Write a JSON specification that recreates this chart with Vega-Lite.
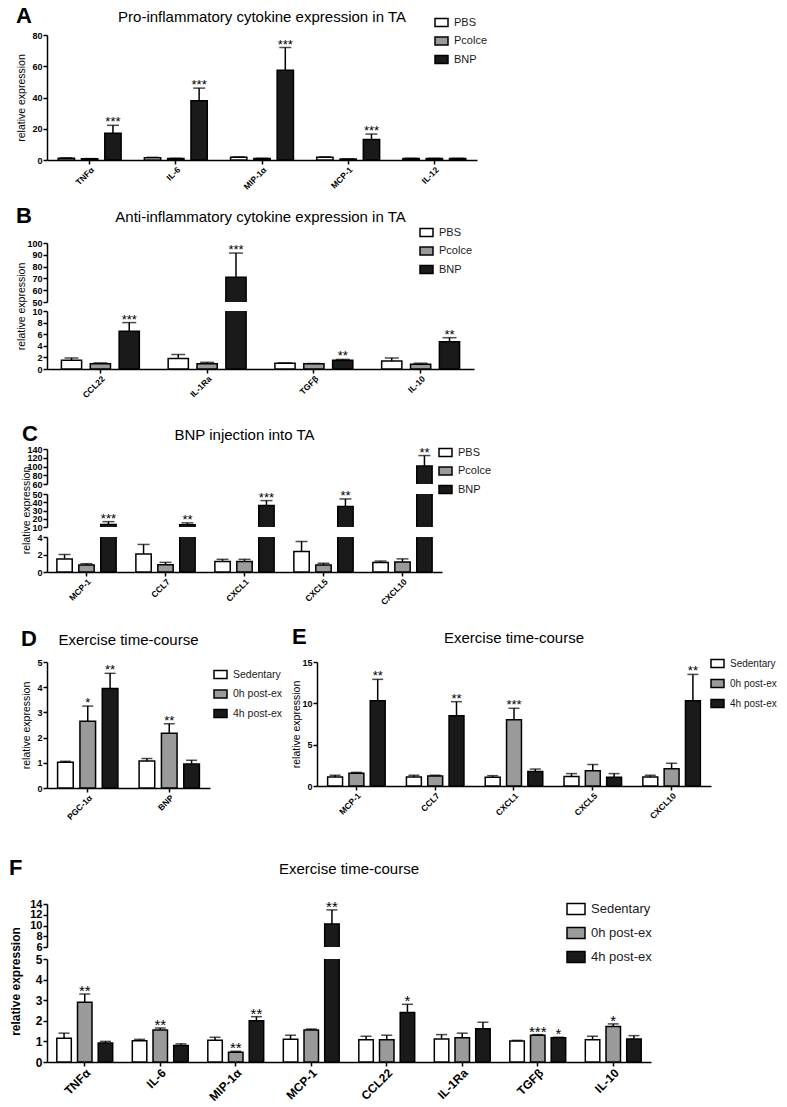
{
"$schema":"https://vega.github.io/schema/vega-lite/v6.json",
"padding":{"left":9,"top":5,"right":5,"bottom":5},
"config":{
 "font":"Liberation Sans",
 "view":{"stroke":null},
 "title":{"font":"Liberation Sans","fontWeight":"normal","fontSize":15,"color":"black"},
 "axis":{"domainColor":"black","domainWidth":1.5,"tickColor":"black","tickWidth":1.5,"tickSize":4,"labelColor":"black","titleColor":"black","grid":false,"labelFont":"Liberation Sans","titleFont":"Liberation Sans","labelFontWeight":"bold","labelFontSize":9,"titleFontWeight":"normal","titleFontSize":10.5,"labelPadding":1,"titlePadding":0,"labelOverlap":false},
 "axisX":{"labelAngle":-45,"labelFontSize":8.5},
 "legend":{"symbolType":"M-1,-0.6H1V0.6H-1Z","symbolSize":169,"symbolStrokeColor":"black","symbolStrokeWidth":1.5,"labelFont":"Liberation Sans","labelFontSize":11,"labelColor":"#1a1a1a","rowPadding":3.5,"padding":0,"labelOffset":5},
 "text":{"font":"Liberation Sans","color":"black"}
},
"datasets":{
 "dA":[
  {"gene":"TNFα","grp":"PBS","v":1.2,"up":1.4,"sig":""},
  {"gene":"TNFα","grp":"Pcolce","v":0.8,"up":0.9,"sig":""},
  {"gene":"TNFα","grp":"BNP","v":17.2,"up":22.2,"sig":"***"},
  {"gene":"IL-6","grp":"PBS","v":1.5,"up":1.7,"sig":""},
  {"gene":"IL-6","grp":"Pcolce","v":1.0,"up":1.1,"sig":""},
  {"gene":"IL-6","grp":"BNP","v":38,"up":46,"sig":"***"},
  {"gene":"MIP-1α","grp":"PBS","v":1.8,"up":2.0,"sig":""},
  {"gene":"MIP-1α","grp":"Pcolce","v":1.0,"up":1.1,"sig":""},
  {"gene":"MIP-1α","grp":"BNP","v":57.5,"up":72,"sig":"***"},
  {"gene":"MCP-1","grp":"PBS","v":1.8,"up":2.0,"sig":""},
  {"gene":"MCP-1","grp":"Pcolce","v":0.6,"up":0.7,"sig":""},
  {"gene":"MCP-1","grp":"BNP","v":13.2,"up":16.6,"sig":"***"},
  {"gene":"IL-12","grp":"PBS","v":1.0,"up":1.1,"sig":""},
  {"gene":"IL-12","grp":"Pcolce","v":1.0,"up":1.1,"sig":""},
  {"gene":"IL-12","grp":"BNP","v":1.0,"up":1.1,"sig":""}
 ],
 "dB":[
  {"gene":"CCL22","grp":"PBS","v":1.5,"up":1.9,"sig":""},
  {"gene":"CCL22","grp":"Pcolce","v":0.9,"up":1.05,"sig":""},
  {"gene":"CCL22","grp":"BNP","v":6.5,"up":8.0,"sig":"***"},
  {"gene":"IL-1Ra","grp":"PBS","v":1.8,"up":2.5,"sig":""},
  {"gene":"IL-1Ra","grp":"Pcolce","v":0.9,"up":1.15,"sig":""},
  {"gene":"IL-1Ra","grp":"BNP","v":71,"up":91.5,"sig":"***"},
  {"gene":"TGFβ","grp":"PBS","v":1.0,"up":1.05,"sig":""},
  {"gene":"TGFβ","grp":"Pcolce","v":0.9,"up":0.95,"sig":""},
  {"gene":"TGFβ","grp":"BNP","v":1.5,"up":1.65,"sig":"**"},
  {"gene":"IL-10","grp":"PBS","v":1.4,"up":1.9,"sig":""},
  {"gene":"IL-10","grp":"Pcolce","v":0.8,"up":1.0,"sig":""},
  {"gene":"IL-10","grp":"BNP","v":4.7,"up":5.4,"sig":"**"}
 ],
 "dC":[
  {"gene":"MCP-1","grp":"PBS","v":1.5,"up":2.0,"sig":""},
  {"gene":"MCP-1","grp":"Pcolce","v":0.8,"up":0.95,"sig":""},
  {"gene":"MCP-1","grp":"BNP","v":13,"up":16.5,"sig":"***"},
  {"gene":"CCL7","grp":"PBS","v":2.05,"up":3.15,"sig":""},
  {"gene":"CCL7","grp":"Pcolce","v":0.83,"up":1.1,"sig":""},
  {"gene":"CCL7","grp":"BNP","v":12.6,"up":15,"sig":"**"},
  {"gene":"CXCL1","grp":"PBS","v":1.2,"up":1.45,"sig":""},
  {"gene":"CXCL1","grp":"Pcolce","v":1.2,"up":1.45,"sig":""},
  {"gene":"CXCL1","grp":"BNP","v":36,"up":42,"sig":"***"},
  {"gene":"CXCL5","grp":"PBS","v":2.35,"up":3.5,"sig":""},
  {"gene":"CXCL5","grp":"Pcolce","v":0.8,"up":1.0,"sig":""},
  {"gene":"CXCL5","grp":"BNP","v":35,"up":44,"sig":"**"},
  {"gene":"CXCL10","grp":"PBS","v":1.1,"up":1.25,"sig":""},
  {"gene":"CXCL10","grp":"Pcolce","v":1.15,"up":1.5,"sig":""},
  {"gene":"CXCL10","grp":"BNP","v":101,"up":125,"sig":"**"}
 ],
 "dD":[
  {"gene":"PGC-1α","grp":"Sedentary","v":1.02,"up":1.06,"sig":""},
  {"gene":"PGC-1α","grp":"0h post-ex","v":2.65,"up":3.25,"sig":"*"},
  {"gene":"PGC-1α","grp":"4h post-ex","v":3.95,"up":4.55,"sig":"**"},
  {"gene":"BNP","grp":"Sedentary","v":1.07,"up":1.17,"sig":""},
  {"gene":"BNP","grp":"0h post-ex","v":2.17,"up":2.55,"sig":"**"},
  {"gene":"BNP","grp":"4h post-ex","v":0.95,"up":1.1,"sig":""}
 ],
 "dE":[
  {"gene":"MCP-1","grp":"Sedentary","v":1.1,"up":1.3,"sig":""},
  {"gene":"MCP-1","grp":"0h post-ex","v":1.55,"up":1.65,"sig":""},
  {"gene":"MCP-1","grp":"4h post-ex","v":10.3,"up":12.9,"sig":"**"},
  {"gene":"CCL7","grp":"Sedentary","v":1.1,"up":1.3,"sig":""},
  {"gene":"CCL7","grp":"0h post-ex","v":1.2,"up":1.3,"sig":""},
  {"gene":"CCL7","grp":"4h post-ex","v":8.5,"up":10.2,"sig":"**"},
  {"gene":"CXCL1","grp":"Sedentary","v":1.05,"up":1.25,"sig":""},
  {"gene":"CXCL1","grp":"0h post-ex","v":8.0,"up":9.4,"sig":"***"},
  {"gene":"CXCL1","grp":"4h post-ex","v":1.75,"up":2.05,"sig":""},
  {"gene":"CXCL5","grp":"Sedentary","v":1.15,"up":1.5,"sig":""},
  {"gene":"CXCL5","grp":"0h post-ex","v":1.85,"up":2.6,"sig":""},
  {"gene":"CXCL5","grp":"4h post-ex","v":1.05,"up":1.5,"sig":""},
  {"gene":"CXCL10","grp":"Sedentary","v":1.1,"up":1.3,"sig":""},
  {"gene":"CXCL10","grp":"0h post-ex","v":2.1,"up":2.75,"sig":""},
  {"gene":"CXCL10","grp":"4h post-ex","v":10.3,"up":13.5,"sig":"**"}
 ],
 "dF":[
  {"gene":"TNFα","grp":"Sedentary","v":1.15,"up":1.4,"sig":""},
  {"gene":"TNFα","grp":"0h post-ex","v":2.9,"up":3.3,"sig":"**"},
  {"gene":"TNFα","grp":"4h post-ex","v":0.92,"up":1.0,"sig":""},
  {"gene":"IL-6","grp":"Sedentary","v":1.03,"up":1.1,"sig":""},
  {"gene":"IL-6","grp":"0h post-ex","v":1.55,"up":1.65,"sig":"**"},
  {"gene":"IL-6","grp":"4h post-ex","v":0.8,"up":0.88,"sig":""},
  {"gene":"MIP-1α","grp":"Sedentary","v":1.05,"up":1.2,"sig":""},
  {"gene":"MIP-1α","grp":"0h post-ex","v":0.47,"up":0.52,"sig":"**"},
  {"gene":"MIP-1α","grp":"4h post-ex","v":2.0,"up":2.2,"sig":"**"},
  {"gene":"MCP-1","grp":"Sedentary","v":1.1,"up":1.3,"sig":""},
  {"gene":"MCP-1","grp":"0h post-ex","v":1.55,"up":1.6,"sig":""},
  {"gene":"MCP-1","grp":"4h post-ex","v":10.3,"up":12.9,"sig":"**"},
  {"gene":"CCL22","grp":"Sedentary","v":1.08,"up":1.25,"sig":""},
  {"gene":"CCL22","grp":"0h post-ex","v":1.08,"up":1.3,"sig":""},
  {"gene":"CCL22","grp":"4h post-ex","v":2.4,"up":2.8,"sig":"*"},
  {"gene":"IL-1Ra","grp":"Sedentary","v":1.12,"up":1.33,"sig":""},
  {"gene":"IL-1Ra","grp":"0h post-ex","v":1.18,"up":1.4,"sig":""},
  {"gene":"IL-1Ra","grp":"4h post-ex","v":1.62,"up":1.93,"sig":""},
  {"gene":"TGFβ","grp":"Sedentary","v":1.02,"up":1.05,"sig":""},
  {"gene":"TGFβ","grp":"0h post-ex","v":1.3,"up":1.33,"sig":"***"},
  {"gene":"TGFβ","grp":"4h post-ex","v":1.18,"up":1.2,"sig":"*"},
  {"gene":"IL-10","grp":"Sedentary","v":1.08,"up":1.25,"sig":""},
  {"gene":"IL-10","grp":"0h post-ex","v":1.72,"up":1.85,"sig":"*"},
  {"gene":"IL-10","grp":"4h post-ex","v":1.12,"up":1.28,"sig":""}
 ]
},
"align":"none",
"resolve":{"scale":{"x":"independent","y":"independent","xOffset":"independent","fill":"independent"},"legend":{"fill":"independent"},"axis":{"x":"independent","y":"independent"}},
"spacing":14,
"vconcat":[
 {
  "title":{"text":"A","anchor":"start","fontSize":22,"fontWeight":"bold","offset":-18},
  "resolve":{"scale":{"x":"independent","y":"independent","xOffset":"independent","fill":"independent"},"legend":{"fill":"independent"},"axis":{"x":"independent","y":"independent"}},
  "vconcat":[{
   "width":430,"height":125,
   "data":{"name":"dA"},
   "title":{"text":"Pro-inflammatory cytokine expression in TA","offset":-10},
   "encoding":{
    "x":{"field":"gene","type":"nominal","sort":null,"scale":{"paddingInner":0.27,"paddingOuter":0.13},"axis":{"title":null}},
    "xOffset":{"field":"grp","type":"nominal","sort":["PBS","Pcolce","BNP"],"scale":{"paddingInner":0.3}}
   },
   "layer":[
    {"mark":{"type":"bar","stroke":"black","strokeWidth":1.5},
     "encoding":{"y":{"field":"v","type":"quantitative","scale":{"domain":[0,80],"nice":false},"axis":{"title":"relative expression","values":[0,20,40,60,80],"minExtent":21,"labelOverlap":false}},
      "fill":{"field":"grp","type":"nominal","scale":{"domain":["PBS","Pcolce","BNP"],"range":["#ffffff","#9a9a9a","#1a1a1a"]},"legend":{"title":null,"orient":"none","legendX":387,"legendY":-20}}}},
    {"mark":{"type":"rule","strokeWidth":1.5,"color":"black"},"encoding":{"y":{"field":"v","type":"quantitative","axis":{"title":"relative expression","values":[0,20,40,60,80],"minExtent":21,"labelOverlap":false}},"y2":{"field":"up"}}},
    {"mark":{"type":"tick","thickness":1.5,"size":12,"color":"black"},"encoding":{"y":{"field":"up","type":"quantitative","axis":{"title":"relative expression","values":[0,20,40,60,80],"minExtent":21,"labelOverlap":false}}}},
    {"transform":[{"filter":"datum.sig != ''"}],"mark":{"type":"text","fontSize":13,"baseline":"alphabetic","dy":1},"encoding":{"y":{"field":"up","type":"quantitative","axis":{"title":"relative expression","values":[0,20,40,60,80],"minExtent":21,"labelOverlap":false}},"text":{"field":"sig"}}}
   ]
  }]
 },
 {
  "spacing":23,
  "align":"none",
  "resolve":{"scale":{"x":"independent","y":"independent","xOffset":"independent","fill":"independent"},"legend":{"fill":"independent"},"axis":{"x":"independent","y":"independent"}},
  "vconcat":[
   {
    "title":{"text":"B","anchor":"start","fontSize":22,"fontWeight":"bold","offset":-18},
    "bounds":"flush","spacing":9,
    "resolve":{"scale":{"x":"independent","y":"independent","xOffset":"independent","fill":"independent"},"legend":{"fill":"independent"},"axis":{"x":"independent","y":"independent"}},
    "vconcat":[
     {
      "width":427,"height":59,
      "data":{"name":"dB"},
      "title":{"text":"Anti-inflammatory cytokine expression in TA","offset":0},
      "encoding":{
       "x":{"field":"gene","type":"nominal","sort":null,"scale":{"paddingInner":0.27,"paddingOuter":0.135},"axis":null},
       "xOffset":{"field":"grp","type":"nominal","sort":["PBS","Pcolce","BNP"],"scale":{"paddingInner":0.3}}
      },
      "layer":[
       {"mark":{"type":"bar","stroke":"black","strokeWidth":1.5,"clip":true},
        "encoding":{"y":{"field":"v","type":"quantitative","scale":{"domain":[50,100],"nice":false,"zero":false},"axis":{"title":null,"values":[50,60,70,80,90,100],"minExtent":21,"labelOverlap":false}},
         "fill":{"field":"grp","type":"nominal","scale":{"domain":["PBS","Pcolce","BNP"],"range":["#ffffff","#9a9a9a","#1a1a1a"]},"legend":{"title":null,"orient":"none","legendX":372,"legendY":-18}}}},
       {"mark":{"type":"rule","strokeWidth":1.5,"color":"black","clip":true},"encoding":{"y":{"field":"v","type":"quantitative","axis":{"title":null,"values":[50,60,70,80,90,100],"minExtent":21,"labelOverlap":false}},"y2":{"field":"up"}}},
       {"mark":{"type":"tick","thickness":1.5,"size":14,"color":"black","clip":true},"encoding":{"y":{"field":"up","type":"quantitative","axis":{"title":null,"values":[50,60,70,80,90,100],"minExtent":21,"labelOverlap":false}}}},
       {"transform":[{"filter":"datum.sig != '' && datum.up >= 50"}],"mark":{"type":"text","fontSize":13,"baseline":"alphabetic","dy":1},"encoding":{"y":{"field":"up","type":"quantitative","axis":{"title":null,"values":[50,60,70,80,90,100],"minExtent":21,"labelOverlap":false}},"text":{"field":"sig"}}}
      ]
     },
     {
      "width":427,"height":58,
      "data":{"name":"dB"},
      "encoding":{
       "x":{"field":"gene","type":"nominal","sort":null,"scale":{"paddingInner":0.27,"paddingOuter":0.135},"axis":{"title":null}},
       "xOffset":{"field":"grp","type":"nominal","sort":["PBS","Pcolce","BNP"],"scale":{"paddingInner":0.3}}
      },
      "layer":[
       {"mark":{"type":"bar","stroke":"black","strokeWidth":1.5,"clip":true},
        "encoding":{"y":{"field":"v","type":"quantitative","scale":{"domain":[0,10],"nice":false},"axis":{"title":"relative expression","titleY":-5,"values":[0,2,4,6,8,10],"minExtent":21,"labelOverlap":false}},
         "fill":{"field":"grp","type":"nominal","scale":{"domain":["PBS","Pcolce","BNP"],"range":["#ffffff","#9a9a9a","#1a1a1a"]},"legend":null}}},
       {"mark":{"type":"rule","strokeWidth":1.5,"color":"black","clip":true},"encoding":{"y":{"field":"v","type":"quantitative","axis":{"title":"relative expression","titleY":-5,"values":[0,2,4,6,8,10],"minExtent":21,"labelOverlap":false}},"y2":{"field":"up"}}},
       {"mark":{"type":"tick","thickness":1.5,"size":14,"color":"black","clip":true},"encoding":{"y":{"field":"up","type":"quantitative","axis":{"title":"relative expression","titleY":-5,"values":[0,2,4,6,8,10],"minExtent":21,"labelOverlap":false}}}},
       {"transform":[{"filter":"datum.sig != '' && datum.up < 50"}],"mark":{"type":"text","fontSize":13,"baseline":"alphabetic","dy":1},"encoding":{"y":{"field":"up","type":"quantitative","axis":{"title":"relative expression","titleY":-5,"values":[0,2,4,6,8,10],"minExtent":21,"labelOverlap":false}},"text":{"field":"sig"}}}
      ]
     }
    ]
   },
   {
    "spacing":19,
    "align":"none",
    "resolve":{"scale":{"x":"independent","y":"independent","xOffset":"independent","fill":"independent"},"legend":{"fill":"independent"},"axis":{"x":"independent","y":"independent"}},
    "vconcat":[
     {
      "title":{"text":"C","anchor":"start","fontSize":22,"fontWeight":"bold","offset":-18},
      "bounds":"flush","spacing":10,
      "resolve":{"scale":{"x":"independent","y":"independent","xOffset":"independent","fill":"independent"},"legend":{"fill":"independent"},"axis":{"x":"independent","y":"independent"}},
      "vconcat":[
       {
        "width":395,"height":35,
        "data":{"name":"dC"},
        "title":{"text":"BNP injection into TA","offset":2},
        "encoding":{
         "x":{"field":"gene","type":"nominal","sort":null,"scale":{"paddingInner":0.25,"paddingOuter":0.125},"axis":null},
         "xOffset":{"field":"grp","type":"nominal","sort":["PBS","Pcolce","BNP"],"scale":{"paddingInner":0.3}}
        },
        "layer":[
         {"mark":{"type":"bar","stroke":"black","strokeWidth":1.5,"clip":true},
          "encoding":{"y":{"field":"v","type":"quantitative","scale":{"domain":[60,140],"nice":false,"zero":false},"axis":{"title":null,"values":[60,80,100,120,140],"minExtent":14,"labelOverlap":false}},
           "fill":{"field":"grp","type":"nominal","scale":{"domain":["PBS","Pcolce","BNP"],"range":["#ffffff","#9a9a9a","#1a1a1a"]},"legend":{"title":null,"orient":"none","legendX":391,"legendY":-4}}}},
         {"mark":{"type":"rule","strokeWidth":1.5,"color":"black","clip":true},"encoding":{"y":{"field":"v","type":"quantitative","axis":{"title":null,"values":[60,80,100,120,140],"minExtent":14,"labelOverlap":false}},"y2":{"field":"up"}}},
         {"mark":{"type":"tick","thickness":1.5,"size":12,"color":"black","clip":true},"encoding":{"y":{"field":"up","type":"quantitative","axis":{"title":null,"values":[60,80,100,120,140],"minExtent":14,"labelOverlap":false}}}},
         {"transform":[{"filter":"datum.sig != '' && datum.up >= 60"}],"mark":{"type":"text","fontSize":13,"baseline":"alphabetic","dy":1},"encoding":{"y":{"field":"up","type":"quantitative","axis":{"title":null,"values":[60,80,100,120,140],"minExtent":14,"labelOverlap":false}},"text":{"field":"sig"}}}
        ]
       },
       {
        "width":395,"height":33,
        "data":{"name":"dC"},
        "encoding":{
         "x":{"field":"gene","type":"nominal","sort":null,"scale":{"paddingInner":0.25,"paddingOuter":0.125},"axis":null},
         "xOffset":{"field":"grp","type":"nominal","sort":["PBS","Pcolce","BNP"],"scale":{"paddingInner":0.3}}
        },
        "layer":[
         {"mark":{"type":"bar","stroke":"black","strokeWidth":1.5,"clip":true},
          "encoding":{"y":{"field":"v","type":"quantitative","scale":{"domain":[10,50],"nice":false,"zero":false},"axis":{"title":"relative expression","titleY":16,"values":[10,20,30,40,50],"minExtent":14,"labelOverlap":false}},
           "fill":{"field":"grp","type":"nominal","scale":{"domain":["PBS","Pcolce","BNP"],"range":["#ffffff","#9a9a9a","#1a1a1a"]},"legend":null}}},
         {"mark":{"type":"rule","strokeWidth":1.5,"color":"black","clip":true},"encoding":{"y":{"field":"v","type":"quantitative","axis":{"title":"relative expression","titleY":16,"values":[10,20,30,40,50],"minExtent":14,"labelOverlap":false}},"y2":{"field":"up"}}},
         {"mark":{"type":"tick","thickness":1.5,"size":12,"color":"black","clip":true},"encoding":{"y":{"field":"up","type":"quantitative","axis":{"title":"relative expression","titleY":16,"values":[10,20,30,40,50],"minExtent":14,"labelOverlap":false}}}},
         {"transform":[{"filter":"datum.sig != '' && datum.up >= 10 && datum.up < 60"}],"mark":{"type":"text","fontSize":13,"baseline":"alphabetic","dy":1},"encoding":{"y":{"field":"up","type":"quantitative","axis":{"title":"relative expression","titleY":16,"values":[10,20,30,40,50],"minExtent":14,"labelOverlap":false}},"text":{"field":"sig"}}}
        ]
       },
       {
        "width":395,"height":35,
        "data":{"name":"dC"},
        "encoding":{
         "x":{"field":"gene","type":"nominal","sort":null,"scale":{"paddingInner":0.25,"paddingOuter":0.125},"axis":{"title":null}},
         "xOffset":{"field":"grp","type":"nominal","sort":["PBS","Pcolce","BNP"],"scale":{"paddingInner":0.3}}
        },
        "layer":[
         {"mark":{"type":"bar","stroke":"black","strokeWidth":1.5,"clip":true},
          "encoding":{"y":{"field":"v","type":"quantitative","scale":{"domain":[0,4],"nice":false},"axis":{"title":null,"values":[0,2,4],"minExtent":14,"labelOverlap":false}},
           "fill":{"field":"grp","type":"nominal","scale":{"domain":["PBS","Pcolce","BNP"],"range":["#ffffff","#9a9a9a","#1a1a1a"]},"legend":null}}},
         {"mark":{"type":"rule","strokeWidth":1.5,"color":"black","clip":true},"encoding":{"y":{"field":"v","type":"quantitative","axis":{"title":null,"values":[0,2,4],"minExtent":14,"labelOverlap":false}},"y2":{"field":"up"}}},
         {"mark":{"type":"tick","thickness":1.5,"size":12,"color":"black","clip":true},"encoding":{"y":{"field":"up","type":"quantitative","axis":{"title":null,"values":[0,2,4],"minExtent":14,"labelOverlap":false}}}}
        ]
       }
      ]
     },
     {
      "spacing":35,
      "align":"none",
      "resolve":{"scale":{"x":"independent","y":"independent","xOffset":"independent","fill":"independent"},"legend":{"fill":"independent"},"axis":{"x":"independent","y":"independent"}},
      "vconcat":[
       {
        "spacing":8,
        "align":"none",
        "resolve":{"scale":{"x":"independent","y":"independent","xOffset":"independent","fill":"independent"},"legend":{"fill":"independent"},"axis":{"x":"independent","y":"independent"}},
        "hconcat":[
         {
          "title":{"text":"D","anchor":"start","fontSize":22,"fontWeight":"bold","offset":-18},
          "resolve":{"scale":{"x":"independent","y":"independent","xOffset":"independent","fill":"independent"},"legend":{"fill":"independent"},"axis":{"x":"independent","y":"independent"}},
          "vconcat":[{
           "width":163,"height":126,
           "data":{"name":"dD"},
           "title":{"text":"Exercise time-course","offset":10},
           "encoding":{
            "x":{"field":"gene","type":"nominal","sort":null,"scale":{"paddingInner":0.26,"paddingOuter":0.13},"axis":{"title":null}},
            "xOffset":{"field":"grp","type":"nominal","sort":["Sedentary","0h post-ex","4h post-ex"],"scale":{"paddingInner":0.3}}
           },
           "layer":[
            {"mark":{"type":"bar","stroke":"black","strokeWidth":1.5},
             "encoding":{"y":{"field":"v","type":"quantitative","scale":{"domain":[0,5],"nice":false},"axis":{"title":"relative expression","values":[0,1,2,3,4,5],"minExtent":16,"labelOverlap":false}},
              "fill":{"field":"grp","type":"nominal","scale":{"domain":["Sedentary","0h post-ex","4h post-ex"],"range":["#ffffff","#9a9a9a","#1a1a1a"]},"legend":{"title":null,"orient":"none","legendX":166,"legendY":5,"labelFontSize":10.5,"rowPadding":4.5}}}},
            {"mark":{"type":"rule","strokeWidth":1.5,"color":"black"},"encoding":{"y":{"field":"v","type":"quantitative","axis":{"title":"relative expression","values":[0,1,2,3,4,5],"minExtent":16,"labelOverlap":false}},"y2":{"field":"up"}}},
            {"mark":{"type":"tick","thickness":1.5,"size":11,"color":"black"},"encoding":{"y":{"field":"up","type":"quantitative","axis":{"title":"relative expression","values":[0,1,2,3,4,5],"minExtent":16,"labelOverlap":false}}}},
            {"transform":[{"filter":"datum.sig != ''"}],"mark":{"type":"text","fontSize":13,"baseline":"alphabetic","dy":1},"encoding":{"y":{"field":"up","type":"quantitative","axis":{"title":"relative expression","values":[0,1,2,3,4,5],"minExtent":16,"labelOverlap":false}},"text":{"field":"sig"}}}
           ]
          }]
         },
         {
          "title":{"text":"E","anchor":"start","fontSize":22,"fontWeight":"bold","offset":-18},
          "resolve":{"scale":{"x":"independent","y":"independent","xOffset":"independent","fill":"independent"},"legend":{"fill":"independent"},"axis":{"x":"independent","y":"independent"}},
          "vconcat":[{
           "width":394,"height":124,
           "data":{"name":"dE"},
           "title":{"text":"Exercise time-course","offset":10},
           "encoding":{
            "x":{"field":"gene","type":"nominal","sort":null,"scale":{"paddingInner":0.27,"paddingOuter":0.135},"axis":{"title":null}},
            "xOffset":{"field":"grp","type":"nominal","sort":["Sedentary","0h post-ex","4h post-ex"],"scale":{"paddingInner":0.3}}
           },
           "layer":[
            {"mark":{"type":"bar","stroke":"black","strokeWidth":1.5},
             "encoding":{"y":{"field":"v","type":"quantitative","scale":{"domain":[0,15],"nice":false},"axis":{"title":"relative expression","values":[0,5,10,15],"minExtent":14,"labelOverlap":false}},
              "fill":{"field":"grp","type":"nominal","scale":{"domain":["Sedentary","0h post-ex","4h post-ex"],"range":["#ffffff","#9a9a9a","#1a1a1a"]},"legend":{"title":null,"orient":"none","legendX":393,"legendY":-6,"labelFontSize":10,"rowPadding":5}}}},
            {"mark":{"type":"rule","strokeWidth":1.5,"color":"black"},"encoding":{"y":{"field":"v","type":"quantitative","axis":{"title":"relative expression","values":[0,5,10,15],"minExtent":14,"labelOverlap":false}},"y2":{"field":"up"}}},
            {"mark":{"type":"tick","thickness":1.5,"size":11,"color":"black"},"encoding":{"y":{"field":"up","type":"quantitative","axis":{"title":"relative expression","values":[0,5,10,15],"minExtent":14,"labelOverlap":false}}}},
            {"transform":[{"filter":"datum.sig != ''"}],"mark":{"type":"text","fontSize":13,"baseline":"alphabetic","dy":1},"encoding":{"y":{"field":"up","type":"quantitative","axis":{"title":"relative expression","values":[0,5,10,15],"minExtent":14,"labelOverlap":false}},"text":{"field":"sig"}}}
           ]
          }]
         }
        ]
       },
       {
        "title":{"text":"F","anchor":"start","fontSize":22,"fontWeight":"bold","offset":-18},
        "bounds":"flush","spacing":12,
        "resolve":{"scale":{"x":"independent","y":"independent","xOffset":"independent","fill":"independent"},"legend":{"fill":"independent"},"axis":{"x":"independent","y":"independent"}},
        "vconcat":[
         {
          "width":604,"height":43,
          "data":{"name":"dF"},
          "title":{"text":"Exercise time-course","offset":21},
          "encoding":{
           "x":{"field":"gene","type":"nominal","sort":null,"scale":{"paddingInner":0.26,"paddingOuter":0.13},"axis":null},
           "xOffset":{"field":"grp","type":"nominal","sort":["Sedentary","0h post-ex","4h post-ex"],"scale":{"paddingInner":0.3}}
          },
          "layer":[
           {"mark":{"type":"bar","stroke":"black","strokeWidth":1.5,"clip":true},
            "encoding":{"y":{"field":"v","type":"quantitative","scale":{"domain":[6,14],"nice":false,"zero":false},"axis":{"title":null,"values":[6,8,10,12,14],"minExtent":25,"labelFontSize":11,"labelOverlap":false}},
             "fill":{"field":"grp","type":"nominal","scale":{"domain":["Sedentary","0h post-ex","4h post-ex"],"range":["#ffffff","#9a9a9a","#1a1a1a"]},"legend":{"title":null,"orient":"none","legendX":519,"legendY":-5,"labelFontSize":13,"rowPadding":5,"symbolSize":324}}}},
           {"mark":{"type":"rule","strokeWidth":1.5,"color":"black","clip":true},"encoding":{"y":{"field":"v","type":"quantitative","axis":{"title":null,"values":[6,8,10,12,14],"minExtent":25,"labelFontSize":11,"labelOverlap":false}},"y2":{"field":"up"}}},
           {"mark":{"type":"tick","thickness":1.5,"size":11,"color":"black","clip":true},"encoding":{"y":{"field":"up","type":"quantitative","axis":{"title":null,"values":[6,8,10,12,14],"minExtent":25,"labelFontSize":11,"labelOverlap":false}}}},
           {"transform":[{"filter":"datum.sig != '' && datum.up >= 6"}],"mark":{"type":"text","fontSize":15,"baseline":"alphabetic","dy":2},"encoding":{"y":{"field":"up","type":"quantitative","axis":{"title":null,"values":[6,8,10,12,14],"minExtent":25,"labelFontSize":11,"labelOverlap":false}},"text":{"field":"sig"}}}
          ]
         },
         {
          "width":604,"height":103,
          "data":{"name":"dF"},
          "encoding":{
           "x":{"field":"gene","type":"nominal","sort":null,"scale":{"paddingInner":0.26,"paddingOuter":0.13},"axis":{"title":null,"labelFontSize":12}},
           "xOffset":{"field":"grp","type":"nominal","sort":["Sedentary","0h post-ex","4h post-ex"],"scale":{"paddingInner":0.3}}
          },
          "layer":[
           {"mark":{"type":"bar","stroke":"black","strokeWidth":1.5,"clip":true},
            "encoding":{"y":{"field":"v","type":"quantitative","scale":{"domain":[0,5],"nice":false},"axis":{"title":"relative expression","titleY":22,"titleFontSize":12,"titleFontWeight":"bold","values":[0,1,2,3,4,5],"minExtent":25,"labelFontSize":12,"labelOverlap":false}},
             "fill":{"field":"grp","type":"nominal","scale":{"domain":["Sedentary","0h post-ex","4h post-ex"],"range":["#ffffff","#9a9a9a","#1a1a1a"]},"legend":null}}},
           {"mark":{"type":"rule","strokeWidth":1.5,"color":"black","clip":true},"encoding":{"y":{"field":"v","type":"quantitative","axis":{"title":"relative expression","titleY":22,"titleFontSize":12,"titleFontWeight":"bold","values":[0,1,2,3,4,5],"minExtent":25,"labelFontSize":12,"labelOverlap":false}},"y2":{"field":"up"}}},
           {"mark":{"type":"tick","thickness":1.5,"size":11,"color":"black","clip":true},"encoding":{"y":{"field":"up","type":"quantitative","axis":{"title":"relative expression","titleY":22,"titleFontSize":12,"titleFontWeight":"bold","values":[0,1,2,3,4,5],"minExtent":25,"labelFontSize":12,"labelOverlap":false}}}},
           {"transform":[{"filter":"datum.sig != '' && datum.up < 6"}],"mark":{"type":"text","fontSize":15,"baseline":"alphabetic","dy":2},"encoding":{"y":{"field":"up","type":"quantitative","axis":{"title":"relative expression","titleY":22,"titleFontSize":12,"titleFontWeight":"bold","values":[0,1,2,3,4,5],"minExtent":25,"labelFontSize":12,"labelOverlap":false}},"text":{"field":"sig"}}}
          ]
         }
        ]
       }
      ]
     }
    ]
   }
  ]
 }
]
}
